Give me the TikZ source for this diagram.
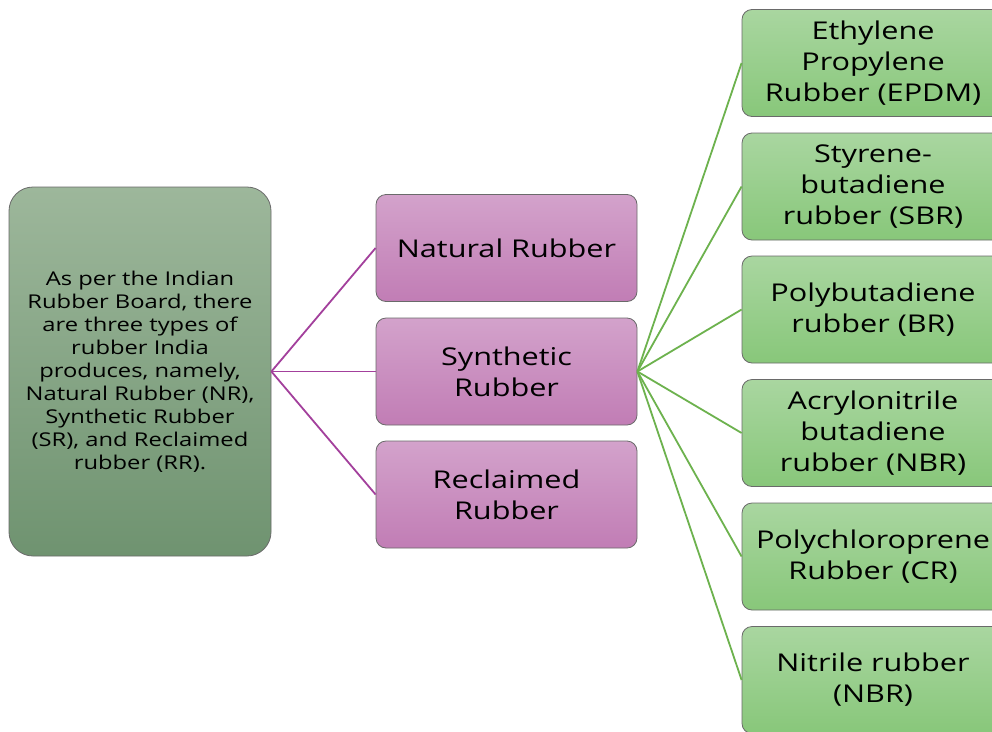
\documentclass[tikz,border=0pt]{standalone}
\usepackage{fontspec}
\setmainfont{Open Sans}[FakeStretch=1.25]
\usetikzlibrary{positioning}
\definecolor{mgtop}{HTML}{D3A2CB}
\definecolor{mgbot}{HTML}{C17DB5}
\definecolor{grtop}{HTML}{A9D6A0}
\definecolor{grbot}{HTML}{88C77A}
\definecolor{lftop}{HTML}{9DB79B}
\definecolor{lfbot}{HTML}{6F9370}
\definecolor{mgline}{HTML}{A3409C}
\definecolor{grline}{HTML}{6DB24E}
\definecolor{edge}{HTML}{6A6A6A}
\tikzset{
  x=1pt, y=-1pt,
  mbox/.style={draw=edge, line width=0.8pt, rounded corners=10pt, top color=mgtop, bottom color=mgbot,
    minimum width=261pt, minimum height=107pt, align=center, inner sep=0pt,
    font=\fontsize{24.5}{31}\selectfont},
  gbox/.style={draw=edge, line width=0.8pt, rounded corners=10pt, top color=grtop, bottom color=grbot,
    minimum width=262pt, minimum height=107pt, align=center, inner sep=0pt,
    font=\fontsize{24.5}{31}\selectfont},
  lbox/.style={draw=edge, line width=0.8pt, rounded corners=24pt, top color=lftop, bottom color=lfbot,
    minimum width=262pt, minimum height=369pt, align=center, inner sep=0pt,
    font=\fontsize{19}{23}\selectfont},
  mline/.style={draw=mgline, line width=1.8pt},
  gline/.style={draw=grline, line width=1.8pt}
}
\begin{document}
\begin{tikzpicture}
\useasboundingbox (0,0) rectangle (992,731);
\clip (0,0) rectangle (992,731);
\fill[white] (0,0) rectangle (992,731);
\node[lbox] (main) at (140,371.5) {As per the Indian\\Rubber Board, there\\are three types of\\rubber India\\produces, namely,\\Natural Rubber (NR),\\Synthetic Rubber\\(SR), and Reclaimed\\rubber (RR).};
\node[mbox] (nr) at (506.5,248) {Natural Rubber};
\node[mbox] (sr) at (506.5,371.5) {Synthetic\\Rubber};
\node[mbox] (rr) at (506.5,494.5) {Reclaimed\\Rubber};
\node[gbox] (g1) at (873,63) {Ethylene\\Propylene\\Rubber (EPDM)};
\node[gbox] (g2) at (873,186.5) {Styrene-\\butadiene\\rubber (SBR)};
\node[gbox] (g3) at (873,309.5) {Polybutadiene\\rubber (BR)};
\node[gbox] (g4) at (873,433) {Acrylonitrile\\butadiene\\rubber (NBR)};
\node[gbox] (g5) at (873,556.5) {Polychloroprene\\Rubber (CR)};
\node[gbox] (g6) at (873,680) {Nitrile rubber\\(NBR)};
\foreach \t in {nr,sr,rr} \draw[mline] (main.east) -- (\t.west);
\foreach \t in {g1,g2,g3,g4,g5,g6} \draw[gline] (sr.east) -- (\t.west);
\end{tikzpicture}
\end{document}
